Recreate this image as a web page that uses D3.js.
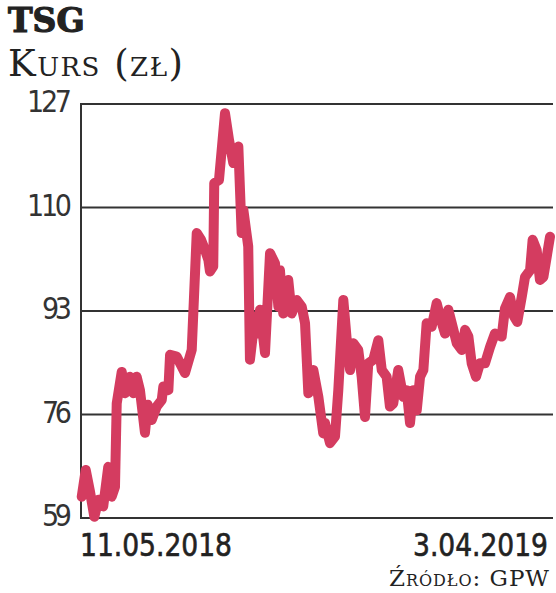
<!DOCTYPE html>
<html><head><meta charset="utf-8">
<script src="https://cdn.jsdelivr.net/npm/d3@7"></script>
<style>body{margin:0;background:#fff}</style>
</head><body>
<svg id="chart" width="556" height="593"></svg>
<script>
// days since 11.05.2018, price in zl
var days = [0.5,3.3,6.3,9.3,12.1,15.5,19.0,21.4,23.7,24.9,28.4,30.7,34.2,36.5,38.8,41.1,44.6,46.5,49.3,52.8,56.3,57.4,60.9,62.1,66.7,70.2,72.5,77.2,80.7,83.7,86.5,88.8,89.9,92.2,92.9,96.2,100.4,103.2,106.2,109.7,112.0,113.2,116.6,117.8,121.3,123.6,124.8,128.3,131.8,135.3,137.6,138.7,141.0,144.5,146.9,150.4,153.9,156.2,158.5,162.0,165.5,168.9,170.1,173.6,177.1,179.4,182.9,185.3,187.6,189.9,193.3,195.7,198.0,200.3,203.8,207.3,209.7,213.1,215.4,217.7,221.2,224.7,227.1,229.4,231.7,234.1,236.4,238.7,241.0,244.5,248.0,250.3,253.8,256.1,258.5,262.0,265.5,267.8,270.1,272.4,275.4,278.2,281.7,285.2,288.6,293.3,295.6,299.1,301.9,304.2,307.3,309.6,313.1,314.9,317.7,320.0,322.4,324.7,327.0];
var prices = [62.5,66.9,63.3,59.2,62.0,60.9,67.4,62.5,64.1,77.8,83.0,79.5,82.2,79.5,82.2,80.0,73.0,77.6,75.1,77.3,78.4,80.6,80.0,85.8,85.5,83.9,82.8,86.6,105.8,104.7,103.0,101.4,99.5,100.3,114.0,114.5,125.5,121.1,117.3,120.0,105.8,109.6,103.6,85.0,92.1,89.3,93.2,86.1,102.5,100.8,93.7,99.7,92.6,98.1,92.6,94.8,93.7,91.0,79.5,83.3,78.9,72.9,74.6,71.3,72.4,80.0,94.8,88.2,83.3,87.7,86.6,82.2,75.6,84.4,85.0,88.2,83.3,82.2,77.3,77.8,83.3,78.9,80.0,74.6,80.0,76.7,82.2,83.3,91.0,90.4,94.3,92.1,89.3,93.2,91.0,87.7,86.6,89.9,88.8,84.4,82.2,84.4,84.4,87.1,89.3,88.8,93.4,95.3,92.1,91.2,95.3,98.6,99.7,104.7,103.0,98.1,98.6,101.9,105.2];
var yTicks = [59, 76, 93, 110, 127];
var xLabels = ["11.05.2018", "3.04.2019"];

var svg = d3.select("#chart");
var x = d3.scaleLinear().domain([0, 327]).range([81, 550]);
var y = d3.scaleLinear().domain([59, 127]).range([518, 104]);
var cond = "'DejaVu Sans Condensed', sans-serif";

svg.append("text").attr("x", 8).attr("y", 32)
  .style("font", "bold 33px 'DejaVu Serif'").attr("stroke", "#222").attr("stroke-width", 1.2)
  .attr("fill", "#222").text("TSG");
svg.append("text").attr("x", 8).attr("y", 76)
  .style("font", "37px 'DejaVu Serif'").style("font-variant", "small-caps")
  .attr("fill", "#222").attr("textLength", 175).text("Kurs (zł)");

svg.selectAll(".grid").data(yTicks).enter().append("line")
  .attr("x1", 81).attr("x2", 553)
  .attr("y1", function(d) { return y(d); }).attr("y2", function(d) { return y(d); })
  .attr("stroke", "#333").attr("stroke-width", 2);
svg.append("line").attr("x1", 81).attr("x2", 81).attr("y1", y(127) - 1).attr("y2", y(59) + 1)
  .attr("stroke", "#333").attr("stroke-width", 2);

svg.selectAll(".yl").data(yTicks).enter().append("text")
  .attr("x", 72).attr("y", function(d) { return y(d) + 8; })
  .attr("text-anchor", "end")
  .style("font", "30px " + cond)
  .attr("fill", "#333")
  .attr("textLength", function(d) { return String(d).length * 15; })
  .text(function(d) { return d; });

var line = d3.line().x(function(d) { return x(d[0]); }).y(function(d) { return y(d[1]); });
svg.append("path").datum(d3.zip(days, prices)).attr("d", line)
  .attr("fill", "none").attr("stroke", "#d43c60").attr("stroke-width", 10)
  .attr("stroke-linejoin", "round").attr("stroke-linecap", "round");

svg.append("text").attr("x", 80).attr("y", 556)
  .style("font", "32px " + cond).attr("stroke", "#222").attr("stroke-width", 0.6)
  .attr("textLength", 152).attr("lengthAdjust", "spacingAndGlyphs")
  .attr("fill", "#222").text(xLabels[0]);
svg.append("text").attr("x", 548).attr("y", 556).attr("text-anchor", "end")
  .style("font", "32px " + cond).attr("stroke", "#222").attr("stroke-width", 0.6)
  .attr("textLength", 135).attr("lengthAdjust", "spacingAndGlyphs")
  .attr("fill", "#222").text(xLabels[1]);
svg.append("text").attr("x", 549).attr("y", 586).attr("text-anchor", "end")
  .style("font", "23px 'DejaVu Serif'").style("font-variant", "small-caps")
  .attr("fill", "#222").attr("textLength", 160).text("Źródło: GPW");
</script>
</body></html>
